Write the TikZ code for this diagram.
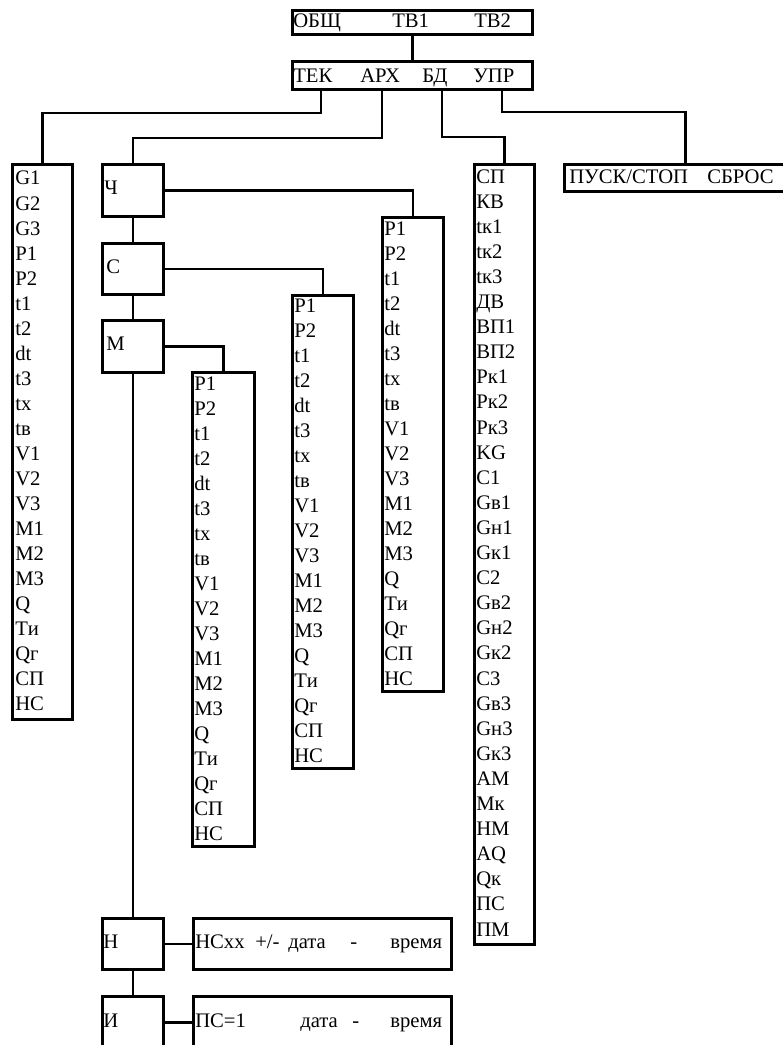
\documentclass[tikz,border=0pt]{standalone}
\usepackage{fontspec}
\setmainfont{Liberation Serif}
\begin{document}
\begin{tikzpicture}[x=0.75pt,y=-0.75pt,
  box/.style={draw, line width=2pt, rectangle, inner sep=0pt, anchor=north west},
  lbl/.style={anchor=base west, inner sep=0pt, font=\fontsize{15.5}{18}\selectfont},
  wire/.style={line width=2pt}]
\useasboundingbox (0,0) rectangle (782,1045);
\newcommand{\mybox}[5]{\node[box, minimum width={(#4-#2)*0.75pt}, minimum height={(#5-#3)*0.75pt}] (#1) at (#2,#3) {};}
% boxes
\mybox{top}{291}{9}{531}{33}
\mybox{menu}{291}{60}{531}{88}
\mybox{tekl}{11}{163}{71}{718}
\mybox{ch}{101}{163}{162}{215}
\mybox{s}{101}{242}{162}{293}
\mybox{m}{101}{319}{162}{371}
\mybox{n}{101}{917}{162}{968}
\mybox{i}{101}{995}{162}{1047}
\mybox{nt}{192}{917}{450}{968}
\mybox{it}{192}{995}{450}{1047}
\mybox{chl}{381}{216}{442}{690}
\mybox{sl}{291}{294}{352}{767}
\mybox{ml}{191}{371}{253}{845}
\mybox{bdl}{473}{163}{533}{943}
\mybox{pusk}{563}{163}{805}{190}
% tap points
\coordinate (ctek) at (321,88);
\coordinate (carh) at (382,88);
\coordinate (cbd) at (442,88);
\coordinate (cupr) at (502,88);
% connectors
\draw[wire] (top.south) -- (menu.north);
\draw[wire] (ctek) -- (321,113) -| (tekl.north);
\draw[wire] (carh) -- (382,138) -| (ch.north);
\draw[wire] (cbd) -- (442,137) -| (bdl.north);
\draw[wire] (cupr) -- (502,112) -| (pusk.north);
\draw[wire] (ch.east) -| (chl.north);
\draw[wire] (s.east) -| (sl.north);
\draw[wire] (m.east) -| (ml.north);
\draw[wire] (ch.south) -- (s.north);
\draw[wire] (s.south) -- (m.north);
\draw[wire] (m.south) -- (n.north);
\draw[wire] (n.south) -- (i.north);
\draw[wire] (n.east) -- (nt.west);
\draw[wire] (i.east) -- (it.west);
% top labels
\node[lbl] (t1) at (293,28) {ОБЩ};
\node[lbl] (t2) at (392,28) {ТВ1};
\node[lbl] (t3) at (474,28) {ТВ2};
\node[lbl] (m1) at (293,83) {ТЕК};
\node[lbl] (m2) at (360,83) {АРХ};
\node[lbl] (m3) at (422,83) {БД};
\node[lbl] (m4) at (473,83) {УПР};
\node[lbl] (p1) at (569,183) {ПУСК/СТОП};
\node[lbl] (p2) at (707,183) {СБРОС};
% block labels
\node[lbl] (lch) at (104,195) {Ч};
\node[lbl] (ls) at (106,273) {С};
\node[lbl] (lm) at (106,350) {М};
\node[lbl] (ln) at (103,948) {Н};
\node[lbl] (li) at (103,1027) {И};
% bottom rows
\node[lbl] (n1) at (195,948) {НСхх};
\node[lbl] (n2) at (255,948) {+/-};
\node[lbl] (n3) at (288,948) {дата};
\node[lbl] (n4) at (350,948) {-};
\node[lbl] (n5) at (390,948) {время};
\node[lbl] (i1) at (195,1027) {ПС=1};
\node[lbl] (i2) at (300,1027) {дата};
\node[lbl] (i3) at (352,1027) {-};
\node[lbl] (i4) at (390,1027) {время};
% lists
\foreach \t [count=\k from 0] in {G1,G2,G3,P1,P2,t1,t2,dt,t3,tx,tв,V1,V2,V3,M1,M2,M3,Q,Tи,Qг,СП,НС}
  \node[lbl] (a\k) at (15,185+25*\k) {\t};
\foreach \t [count=\k from 0] in {P1,P2,t1,t2,dt,t3,tx,tв,V1,V2,V3,M1,M2,M3,Q,Tи,Qг,СП,НС}
  \node[lbl] (b\k) at (384,235+25*\k) {\t};
\foreach \t [count=\k from 0] in {P1,P2,t1,t2,dt,t3,tx,tв,V1,V2,V3,M1,M2,M3,Q,Tи,Qг,СП,НС}
  \node[lbl] (c\k) at (294,312+25*\k) {\t};
\foreach \t [count=\k from 0] in {P1,P2,t1,t2,dt,t3,tx,tв,V1,V2,V3,M1,M2,M3,Q,Tи,Qг,СП,НС}
  \node[lbl] (d\k) at (194,390+25*\k) {\t};
\foreach \t [count=\k from 0] in {СП,КВ,tк1,tк2,tк3,ДВ,ВП1,ВП2,Рк1,Рк2,Рк3,KG,C1,Gв1,Gн1,Gк1,C2,Gв2,Gн2,Gк2,C3,Gв3,Gн3,Gк3,AM,Mк,HM,AQ,Qк,ПС,ПМ}
  \node[lbl] (e\k) at (476,183+25.1*\k) {\t};
\end{tikzpicture}
\end{document}
